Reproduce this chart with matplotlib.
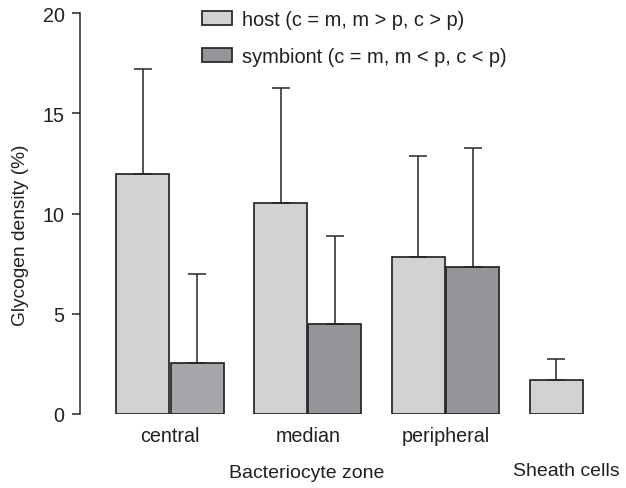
import matplotlib
matplotlib.use("Agg")
import matplotlib.pyplot as plt
from matplotlib.patches import Patch
import numpy as np

plt.rcParams['font.family'] = ['Liberation Sans', 'DejaVu Sans']

# ---- data ----
zones = ["central", "median", "peripheral"]
host_mean = [11.95, 10.5, 7.83]
host_upper = [17.2, 16.25, 12.87]
sym_mean = [2.52, 4.48, 7.33]
sym_upper = [6.98, 8.88, 13.27]
sheath_mean = [1.70]
sheath_upper = [2.74]
host_label = "host (c = m, m > p, c > p)"
sym_label = "symbiont (c = m, m < p, c < p)"
y_ticks = [0, 5, 10, 15, 20]

# ---- style ----
host_color = "#d1d2d4"
sym_colors = ["#a6a7aa", "#939598", "#939598"]
sym_legend_color = "#939598"
edge = "#262324"
txt = "#231f20"
width = 0.385
off = 0.197
lw = 1.25

fig = plt.figure(figsize=(6.26, 4.89), dpi=100)
ax = fig.add_axes([80/626, 74/489, 546/626, 401/489])

x = np.arange(len(zones))
yerr_h = [np.zeros(len(zones)), np.array(host_upper) - np.array(host_mean)]
yerr_s = [np.zeros(len(zones)), np.array(sym_upper) - np.array(sym_mean)]
ekw = dict(ecolor=edge, elinewidth=1.1, capsize=6.5, capthick=1.1)

ax.bar(x - off, host_mean, width, color=host_color, edgecolor=edge, linewidth=lw,
       yerr=yerr_h, error_kw=ekw, zorder=2)
ax.bar(x + off, sym_mean, width, color=sym_colors, edgecolor=edge, linewidth=lw,
       yerr=yerr_s, error_kw=ekw, zorder=2)
xs = len(zones)
ax.bar([xs - off], sheath_mean, width, color=host_color, edgecolor=edge, linewidth=lw,
       yerr=[[0], np.array(sheath_upper) - np.array(sheath_mean)], error_kw=ekw, zorder=2)

ax.set_xlim(-0.654, 3.31)
ax.set_ylim(0, 20)
ax.set_yticks(y_ticks)
ax.set_xticks(x)
ax.set_xticklabels(zones, fontsize=14.2, color=txt)
ax.tick_params(axis='x', length=0, pad=9)
ax.tick_params(axis='y', direction='out', length=6, width=1.1, color=edge,
               labelsize=14.2, labelcolor=txt, pad=5)
for s in ['top', 'right', 'bottom']:
    ax.spines[s].set_visible(False)
ax.spines['left'].set_color(edge)
ax.spines['left'].set_linewidth(1.1)

ax.set_xlabel("Bacteriocyte zone", fontsize=14, color=txt, x=(307-80)/546, labelpad=13)
ax.text(2.88, -(472-415)/401, "Sheath cells", transform=ax.get_xaxis_transform(),
        fontsize=14, color=txt, ha='center', va='center')
ax.set_ylabel("Glycogen density (%)", fontsize=13.8, color=txt, y=0.449, labelpad=10)

handles = [Patch(facecolor=host_color, edgecolor=edge, linewidth=lw, label=host_label),
           Patch(facecolor=sym_legend_color, edgecolor=edge, linewidth=lw, label=sym_label)]
leg = fig.legend(handles=handles, loc='upper left', bbox_to_anchor=(202/626, (489-11)/489),
                 frameon=False, fontsize=14.4, handlelength=1.5, handleheight=0.7,
                 handletextpad=0.48, labelspacing=0.9, borderpad=0, borderaxespad=0)
for t in leg.get_texts():
    t.set_color(txt)

fig.savefig("out.png", dpi=100)
